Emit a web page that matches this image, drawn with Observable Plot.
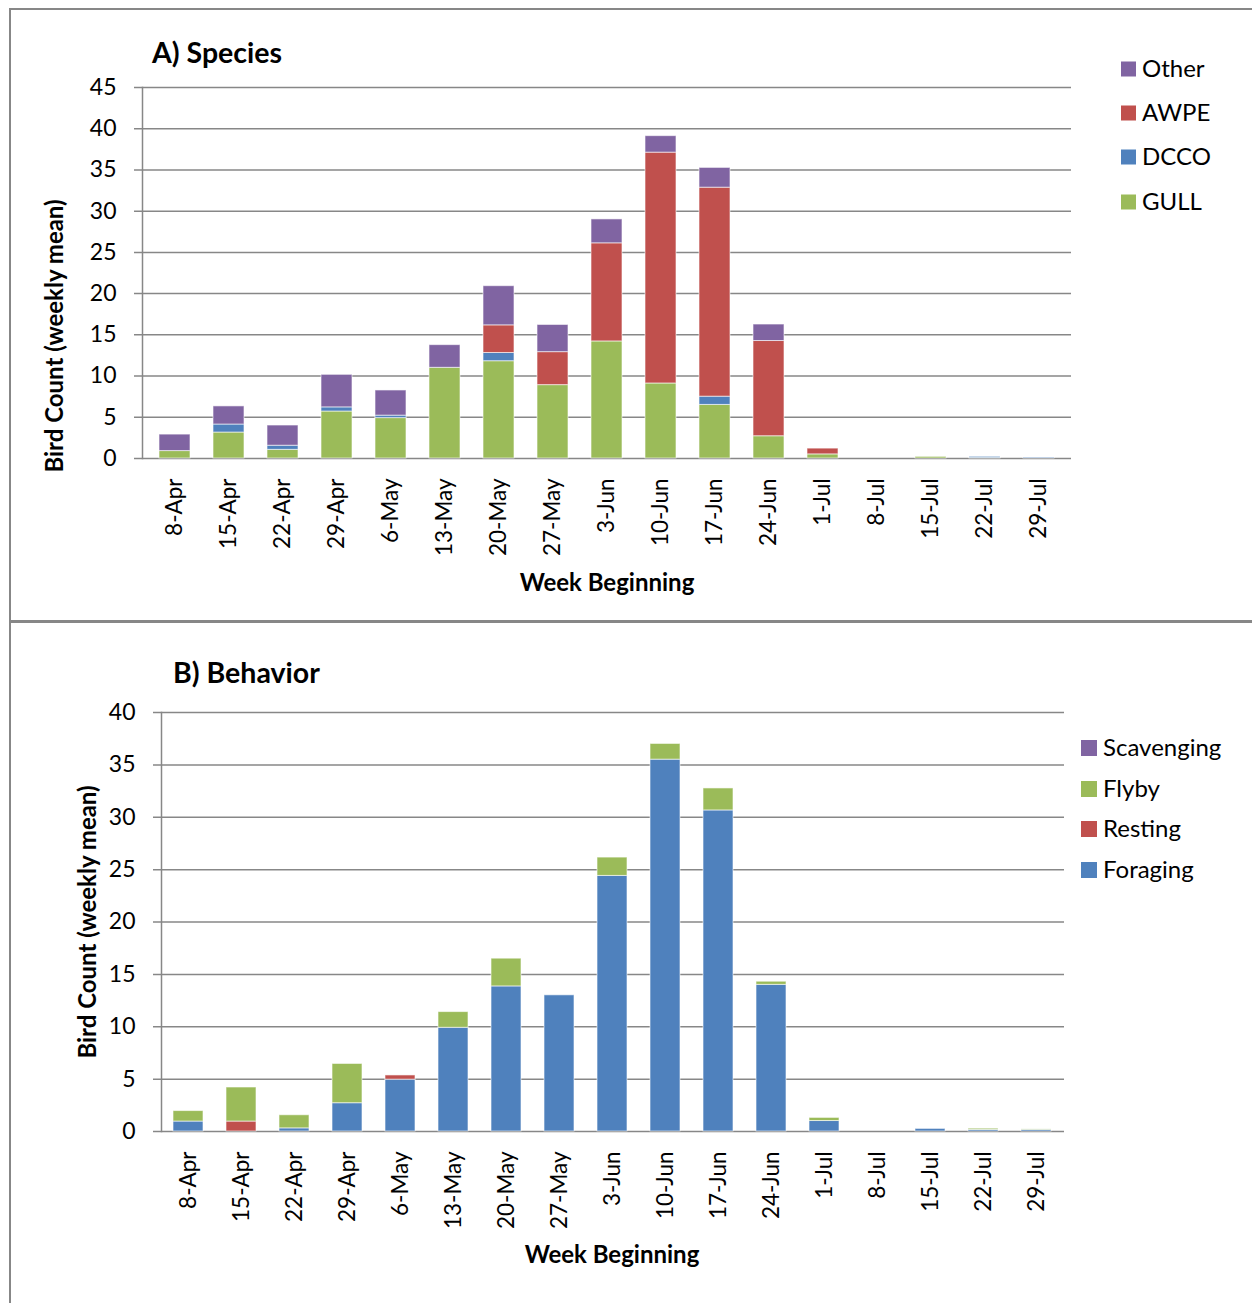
<!DOCTYPE html>
<html>
<head>
<meta charset="utf-8">
<script src="https://cdn.jsdelivr.net/npm/d3@7"></script>
<script src="https://cdn.jsdelivr.net/npm/@observablehq/plot@0.6"></script>
<style>
  body { margin: 0; background: #fff; }
  #page { position: relative; width: 1252px; height: 1303px; overflow: hidden; background: #fff; }
  #page > svg { position: absolute; left: 0; }
  .line { position: absolute; background: #878787; }
</style>
</head>
<body>
<div id="page">
  <div class="line" style="left:9px;top:8px;width:1243px;height:1.5px"></div>
  <div class="line" style="left:9px;top:8px;width:1.5px;height:1295px"></div>
  <div class="line" style="left:9px;top:620px;width:1243px;height:3px"></div>
</div>
<script>
// Week labels shared by both panels
const weeks = ["8-Apr","15-Apr","22-Apr","29-Apr","6-May","13-May","20-May","27-May",
               "3-Jun","10-Jun","17-Jun","24-Jun","1-Jul","8-Jul","15-Jul","22-Jul","29-Jul"];

// Panel A: species, weekly mean counts (stacked bottom to top)
const gull  = [0.9, 3.15, 1.05, 5.7, 4.9, 11.0, 11.8, 8.9, 14.2, 9.1, 6.5, 2.7, 0.5, 0, 0.2, 0.05, 0];
const dcco  = [0, 0.97, 0.5, 0.5, 0.3, 0, 1.0, 0, 0, 0, 1.0, 0, 0, 0, 0, 0.15, 0.1];
const awpe  = [0, 0, 0, 0, 0, 0, 3.35, 4.0, 11.9, 28.0, 25.35, 11.55, 0.7, 0, 0, 0, 0];
const other = [2.0, 2.2, 2.45, 3.95, 3.05, 2.75, 4.75, 3.3, 2.9, 2.0, 2.4, 2.0, 0, 0, 0, 0, 0];
const speciesNames  = ["GULL", "DCCO", "AWPE", "Other"];
const speciesColors = ["#9BBB59", "#4F81BD", "#C0504D", "#8064A2"];

// Panel B: behavior, weekly mean counts (stacked bottom to top)
const foraging   = [0.95, 0, 0.3, 2.7, 4.95, 9.9, 13.85, 13.0, 24.4, 35.5, 30.65, 14.0, 1.0, 0, 0.25, 0.15, 0.15];
const resting    = [0, 0.95, 0, 0, 0.4, 0, 0, 0, 0, 0, 0, 0, 0, 0, 0, 0, 0];
const flyby      = [1.0, 3.25, 1.25, 3.75, 0, 1.5, 2.65, 0, 1.75, 1.5, 2.1, 0.3, 0.3, 0, 0, 0.12, 0.05];
const scavenging = [0, 0, 0, 0, 0, 0, 0, 0, 0, 0, 0, 0, 0, 0, 0, 0, 0];
const behaviorNames  = ["Foraging", "Resting", "Flyby", "Scavenging"];
const behaviorColors = ["#4F81BD", "#C0504D", "#9BBB59", "#8064A2"];

const FONT = "Lato, 'Open Sans', sans-serif";
const GRID = "#878787";
const page = document.getElementById("page");

function tidy(seriesArrays, names) {
  const rows = [];
  names.forEach((name, i) => {
    seriesArrays[i].forEach((v, j) => {
      if (v > 0) rows.push({week: weeks[j], series: name, value: v});
    });
  });
  return rows;
}

function panel({rows, names, colors, yMax, top, height, mt, mb, ml, mr}) {
  const chart = Plot.plot({
    width: 1252,
    height,
    marginTop: mt, marginBottom: mb, marginLeft: ml, marginRight: mr,
    style: {fontFamily: FONT, fontSize: "23px", color: "#000", background: "transparent", overflow: "visible"},
    x: {type: "band", domain: weeks, paddingInner: 0.43, paddingOuter: 0.215, label: null},
    y: {domain: [0, yMax], label: null},
    color: {domain: names, range: colors},
    marks: [
      Plot.gridY(d3.range(0, yMax + 1, 5), {stroke: GRID, strokeOpacity: 1, strokeWidth: 1.5, insetLeft: -8}),
      Plot.barY(rows, {
        x: "week", y: "value", fill: "series", order: names,
        stroke: "#fff", strokeOpacity: 0.6, strokeWidth: 1
      }),
      Plot.frame({anchor: "left", stroke: GRID, strokeWidth: 1.5}),
      Plot.axisY(d3.range(0, yMax + 1, 5), {tickSize: 0, tickPadding: 26, fontSize: 23, label: null}),
      Plot.axisX({tickSize: 0, tickRotate: -90, tickPadding: 20, fontSize: 22.5, label: null})
    ]
  });
  chart.style.top = top + "px";
  page.appendChild(chart);
}

panel({rows: tidy([gull, dcco, awpe, other], speciesNames), names: speciesNames, colors: speciesColors,
       yMax: 45, top: 0, height: 620, mt: 87, mb: 162, ml: 142, mr: 181});
panel({rows: tidy([foraging, resting, flyby, scavenging], behaviorNames), names: behaviorNames, colors: behaviorColors,
       yMax: 40, top: 624, height: 679, mt: 88, mb: 172, ml: 161, mr: 188});

// Titles, axis titles and legends
const overlay = d3.create("svg")
  .attr("width", 1252).attr("height", 1303)
  .style("top", "0px").style("pointer-events", "none")
  .style("font-family", FONT);

function text(str, x, y, {size = 24, weight = "normal", anchor = "start", rotate = 0, baseline = null} = {}) {
  const t = overlay.append("text")
    .attr("transform", `translate(${x},${y}) rotate(${rotate})`)
    .attr("text-anchor", anchor)
    .attr("font-size", size)
    .attr("font-weight", weight)
    .attr("fill", "#000")
    .text(str);
  if (baseline) t.attr("dy", baseline);
}

text("A) Species", 152, 63, {size: 28.5, weight: "bold"});
text("B) Behavior", 173, 683, {size: 28.5, weight: "bold"});
text("Week Beginning", 607, 591, {weight: "bold", anchor: "middle"});
text("Week Beginning", 612, 1263, {weight: "bold", anchor: "middle"});
text("Bird Count  (weekly mean)", 55, 336, {weight: "bold", anchor: "middle", rotate: -90, baseline: "0.35em"});
text("Bird Count (weekly mean)", 88, 922, {weight: "bold", anchor: "middle", rotate: -90, baseline: "0.35em"});

function legend(names, colors, x, ys, box) {
  names.forEach((n, i) => {
    overlay.append("rect").attr("x", x).attr("y", ys[i] - box / 2)
      .attr("width", box).attr("height", box).attr("fill", colors[i]);
    text(n, x + box + 6, ys[i], {baseline: "0.35em"});
  });
}
legend(["Other", "AWPE", "DCCO", "GULL"], ["#8064A2", "#C0504D", "#4F81BD", "#9BBB59"],
       1121, [69, 113, 157, 202], 15);
legend(["Scavenging", "Flyby", "Resting", "Foraging"], ["#8064A2", "#9BBB59", "#C0504D", "#4F81BD"],
       1081, [748, 789, 829, 870], 16);

page.appendChild(overlay.node());
</script>
</body>
</html>
